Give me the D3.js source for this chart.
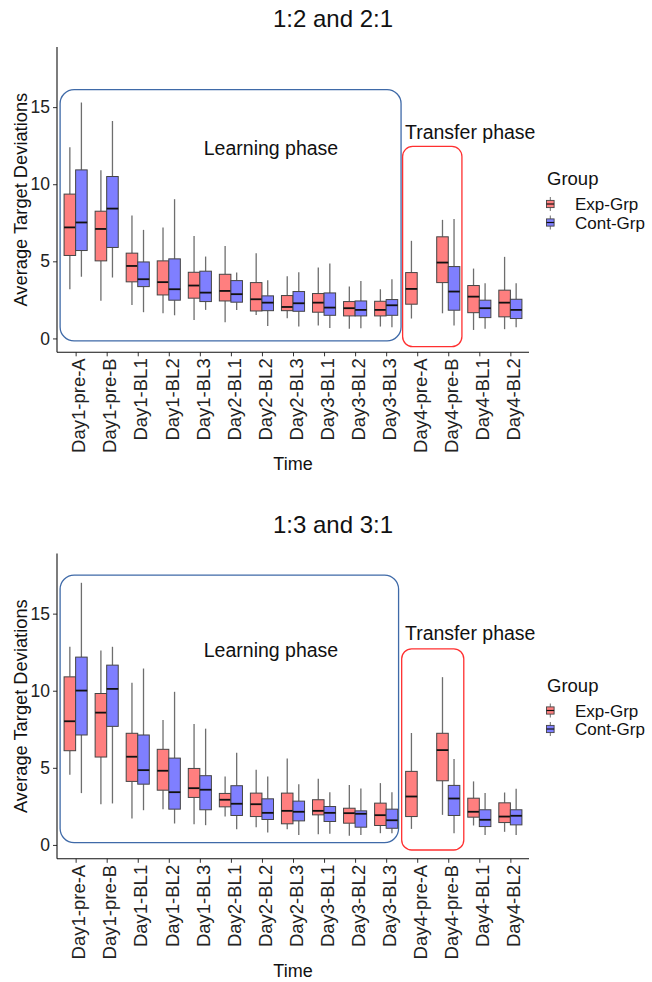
<!DOCTYPE html>
<html><head><meta charset="utf-8">
<script src="https://cdn.jsdelivr.net/npm/d3@7"></script>
<style>body{margin:0;background:#fff}svg{display:block}text{font-family:"Liberation Sans",Arial,sans-serif}</style>
</head><body>
<script>
// ---- data ----
const categories = ["Day1-pre-A","Day1-pre-B","Day1-BL1","Day1-BL2","Day1-BL3","Day2-BL1","Day2-BL2","Day2-BL3","Day3-BL1","Day3-BL2","Day3-BL3","Day4-pre-A","Day4-pre-B","Day4-BL1","Day4-BL2"];
const groups = ["Exp-Grp","Cont-Grp"];
const panelTitles = ["1:2 and 2:1","1:3 and 3:1"];
const yTicks = [0,5,10,15];
// [whisker low, Q1, median, Q3, whisker high]; null = no box
const top_exp = [[3.19,5.38,7.2,9.36,12.4],[2.45,5.03,7.1,8.25,10.9],[2.17,3.67,4.7,5.53,7.97],[1.63,2.82,3.65,5.03,7.19],[1.2,2.61,3.43,4.29,6.65],[1.05,2.43,3.08,4.16,6.0],[1.52,1.78,2.54,3.62,5.53],[1.31,1.8,2.04,2.78,4.03],[0.83,1.7,2.32,2.91,4.6],[0.62,1.46,1.96,2.39,3.36],[0.77,1.46,1.85,2.41,3.19],[1.29,2.22,3.21,4.27,6.33],[1.63,3.62,4.92,6.59,7.69],[0.55,1.67,2.71,3.43,4.53],[0.6,1.4,2.32,3.13,5.29]];
const top_cont = [[4.0,5.7,7.52,10.93,15.3],[3.95,5.9,8.42,10.5,14.1],[1.7,3.36,3.84,4.96,7.04],[1.5,2.48,3.19,5.16,9.03],[1.85,2.39,2.97,4.36,5.31],[1.85,2.35,2.87,3.75,4.27],[0.81,1.8,2.32,2.76,3.78],[0.77,1.76,2.28,3.04,4.29],[0.68,1.5,2.0,2.95,4.86],[0.66,1.46,1.85,2.43,3.73],[0.73,1.5,2.15,2.52,3.84],null,[0.83,1.83,3.04,4.66,7.75],[0.62,1.35,1.96,2.48,3.58],[0.73,1.29,1.85,2.54,3.58]];
const bot_exp = [[4.55,6.11,8.02,10.9,12.85],[2.64,5.7,8.58,9.82,12.61],[1.71,4.12,5.72,7.24,10.51],[2.32,3.55,4.81,6.2,8.1],[1.34,3.08,3.68,4.96,7.84],[1.84,2.47,2.93,3.34,4.44],[1.15,1.84,2.64,3.36,4.88],[1.02,1.37,2.21,3.36,5.61],[0.69,1.95,2.21,2.93,4.29],[0.59,1.41,2.06,2.38,3.88],[0.76,1.26,1.93,2.71,4.01],[1.04,1.84,3.14,4.77,7.26],[1.95,4.16,6.15,7.24,10.88],[1.26,1.8,2.15,3.03,4.12],[0.85,1.45,1.84,2.73,3.4]];
const bot_cont = [[3.36,7.13,10.01,12.18,17.0],[2.69,7.69,10.12,11.66,12.85],[2.25,3.94,4.85,7.13,11.44],[1.39,2.32,3.42,5.63,9.93],[1.28,2.28,3.58,4.49,7.54],[1.02,1.91,2.67,3.84,5.98],[0.8,1.65,2.08,2.99,4.44],[0.65,1.56,2.15,2.84,3.94],[0.72,1.52,2.08,2.49,3.42],[0.65,1.15,2.02,2.21,3.66],[0.76,1.08,1.6,2.32,3.42],null,[0.76,1.91,3.01,3.86,5.57],[0.65,1.19,1.63,2.28,3.36],[0.65,1.3,1.89,2.28,3.64]];
const panelData = [[top_exp, top_cont],[bot_exp, bot_cont]];
const phaseLabels = ["Learning phase","Transfer phase"];

// ---- layout ----
const W = 652, H = 982;
const colors = ["#ff7f7f","#7f7fff"];
const svg = d3.select("body").append("svg").attr("width", W).attr("height", H);
const panelOffsets = [0, 506.5];
// annotation boxes in data units [x0 idx, x1 idx, yTop, yBottom]
const learnBoxes = [[-0.5, 10.48, 16.13, -0.16],[-0.5, 10.4, 17.5, 0.15]];
const transBoxes = [[10.53, 12.44, 12.45, -0.53],[10.5, 12.5, 12.72, -0.33]];
const learnTextY = [155, 657];
const transTextY = [138.5, 640];

panelData.forEach((pd, p) => {
  const off = panelOffsets[p];
  const g = svg.append("g").attr("transform", `translate(0,${off})`);
  const x = d3.scalePoint().domain(categories).range([57, 529]).padding(0.6);
  const step = x.step();
  const xi = d3.scaleLinear().domain([0, 1]).range([x(categories[0]), x(categories[0]) + step]);
  const y = d3.scaleLinear().domain([-0.9, 18.9]).range([352.3, 47]);
  const bw = step * 0.372;

  // title
  g.append("text").attr("x", 333).attr("y", 26.7).attr("text-anchor","middle")
    .attr("font-size", 24).attr("fill","#111").text(panelTitles[p]);

  // annotation boxes
  const lb = learnBoxes[p], tb = transBoxes[p];
  g.append("rect").attr("x", xi(lb[0])).attr("y", y(lb[2]))
    .attr("width", xi(lb[1]) - xi(lb[0])).attr("height", y(lb[3]) - y(lb[2]))
    .attr("rx", 14).attr("fill","none").attr("stroke","#3f6aa8").attr("stroke-width",1.3);
  g.append("rect").attr("x", xi(tb[0])).attr("y", y(tb[2]))
    .attr("width", xi(tb[1]) - xi(tb[0])).attr("height", y(tb[3]) - y(tb[2]))
    .attr("rx", 10).attr("fill","none").attr("stroke","#ff3030").attr("stroke-width",1.3);
  g.append("text").attr("x", 271).attr("y", learnTextY[p] - off).attr("text-anchor","middle")
    .attr("font-size", 19.5).attr("fill","#111").text(phaseLabels[0]);
  g.append("text").attr("x", 405).attr("y", transTextY[p] - off).attr("text-anchor","start")
    .attr("font-size", 19.5).attr("fill","#111").text(phaseLabels[1]);

  // boxes
  pd.forEach((series, gi) => {
    const dx = gi === 0 ? -bw/2 : bw/2;
    series.forEach((s, i) => {
      if (!s) return;
      const cx = x(categories[i]) + dx;
      const bg = g.append("g");
      bg.append("line").attr("x1", cx).attr("x2", cx).attr("y1", y(s[4])).attr("y2", y(s[3]))
        .attr("stroke","#6e6e6e").attr("stroke-width",1.3);
      bg.append("line").attr("x1", cx).attr("x2", cx).attr("y1", y(s[1])).attr("y2", y(s[0]))
        .attr("stroke","#6e6e6e").attr("stroke-width",1.3);
      bg.append("rect").attr("x", cx - bw/2).attr("y", y(s[3])).attr("width", bw)
        .attr("height", y(s[1]) - y(s[3])).attr("fill", colors[gi])
        .attr("stroke","#444").attr("stroke-width",1);
      bg.append("line").attr("x1", cx - bw/2).attr("x2", cx + bw/2).attr("y1", y(s[2])).attr("y2", y(s[2]))
        .attr("stroke","#111").attr("stroke-width",1.8);
    });
  });

  // axes
  const ya = g.append("g").attr("transform","translate(57,0)")
    .call(d3.axisLeft(y).tickValues(yTicks).tickSize(4).tickPadding(3));
  ya.select(".domain").remove();
  ya.selectAll(".tick line").attr("stroke","#333");
  ya.selectAll(".tick text").attr("font-size",17.5).attr("fill","#222").attr("font-family",'"Liberation Sans",Arial,sans-serif');
  g.append("line").attr("x1",57).attr("x2",57).attr("y1",47).attr("y2",352.3).attr("stroke","#111").attr("stroke-width",1.1);

  const xa = g.append("g").attr("transform","translate(0,352.3)")
    .call(d3.axisBottom(x).tickSize(4).tickPadding(3));
  xa.select(".domain").remove();
  xa.selectAll(".tick line").attr("stroke","#333");
  xa.selectAll(".tick text").attr("font-size",18.5).attr("fill","#222")
    .attr("font-family",'"Liberation Sans",Arial,sans-serif')
    .attr("text-anchor","end").attr("transform","rotate(-90)")
    .attr("x",-6).attr("y",0).attr("dy","0.5em");
  g.append("line").attr("x1",57).attr("x2",529).attr("y1",352.3).attr("y2",352.3).attr("stroke","#111").attr("stroke-width",1.1);

  // axis titles
  g.append("text").attr("x",293).attr("y",470).attr("text-anchor","middle").attr("font-size",18).attr("fill","#111").text("Time");
  g.append("text").attr("transform",`translate(27,${(47+352.3)/2}) rotate(-90)`).attr("text-anchor","middle")
    .attr("font-size",18.3).attr("fill","#111").text("Average Target Deviations");

  // legend
  const lg = g.append("g");
  lg.append("text").attr("x",547).attr("y",185).attr("font-size",18.5).attr("fill","#111").text("Group");
  groups.forEach((name, gi) => {
    const ky = 204 + gi*18.5;
    const kx = 550.3;
    lg.append("line").attr("x1",kx).attr("x2",kx).attr("y1",ky-7).attr("y2",ky+7).attr("stroke","#6e6e6e").attr("stroke-width",1);
    lg.append("rect").attr("x",kx-3.8).attr("y",ky-3.6).attr("width",7.6).attr("height",7.2)
      .attr("fill",colors[gi]).attr("stroke","#444").attr("stroke-width",0.9);
    lg.append("line").attr("x1",kx-3.8).attr("x2",kx+3.8).attr("y1",ky).attr("y2",ky).attr("stroke","#111").attr("stroke-width",1.2);
    lg.append("text").attr("x",575).attr("y",ky+6).attr("font-size",17).attr("fill","#111").text(name);
  });
});
</script>
</body></html>
